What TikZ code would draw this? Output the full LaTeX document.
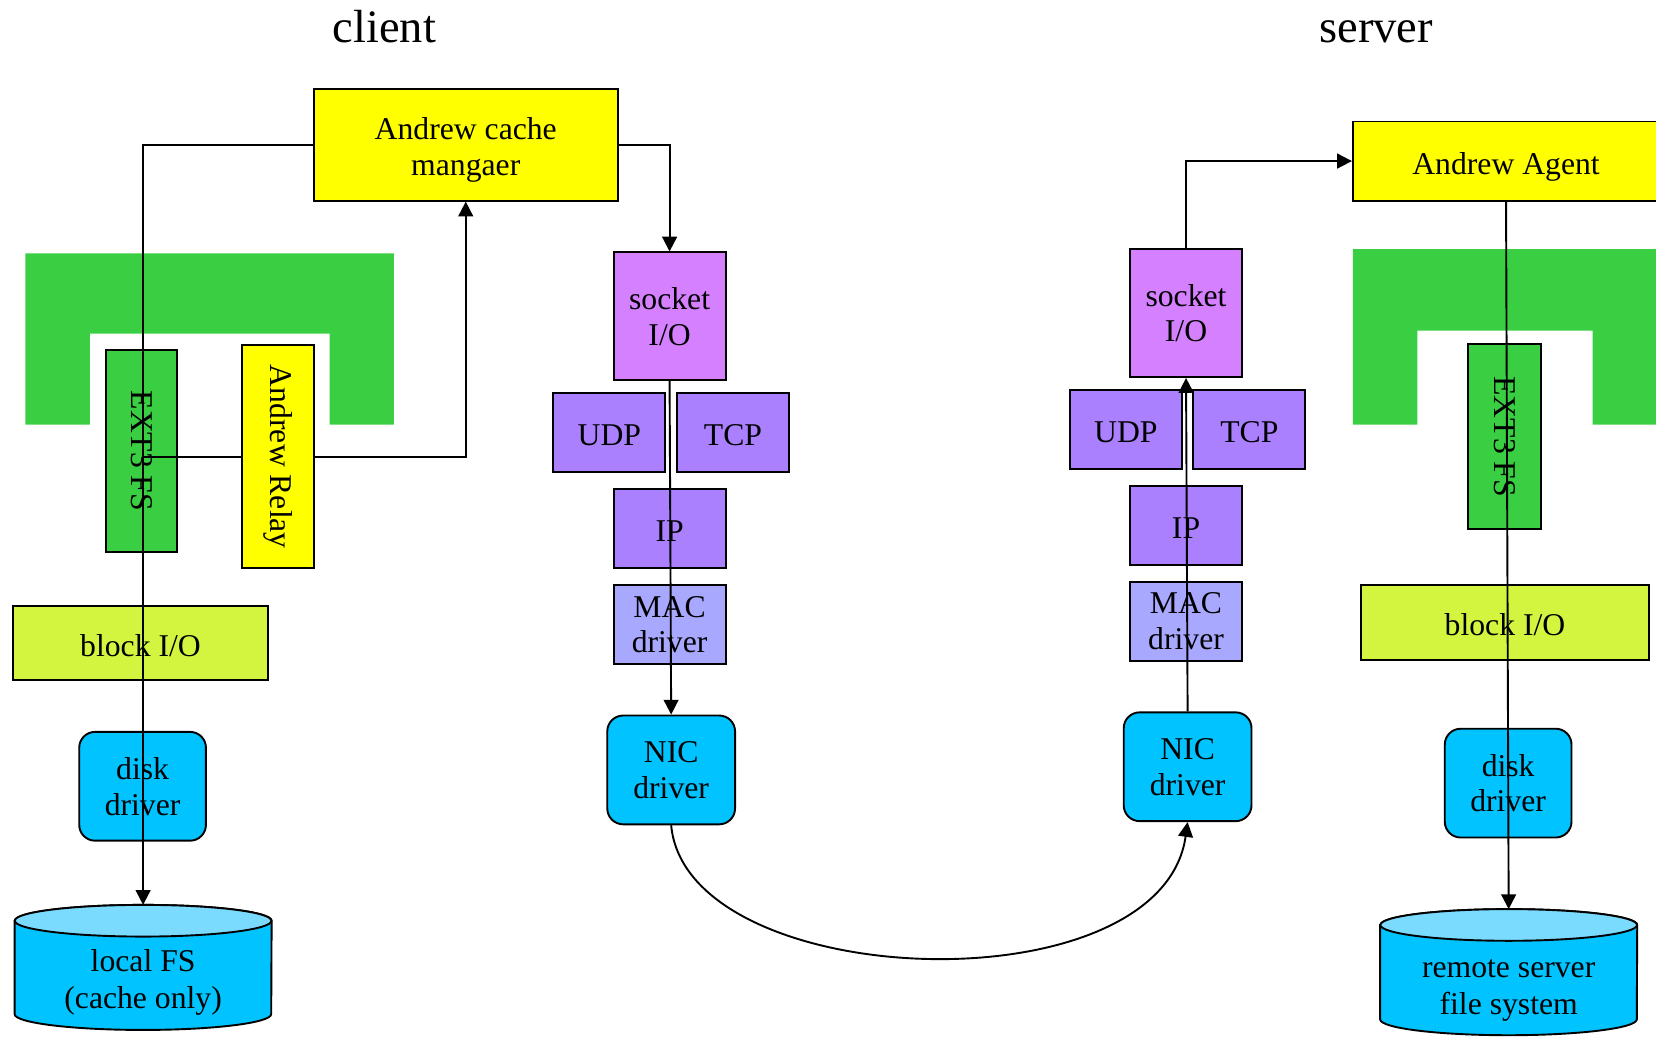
\documentclass[tikz,border=0pt]{standalone}
\usepackage{fontspec}
\setmainfont{Liberation Serif}
\usepackage{graphicx}
\usetikzlibrary{arrows.meta}

\definecolor{ylw}{RGB}{255,255,0}
\definecolor{grn}{RGB}{58,207,66}
\definecolor{blockcol}{RGB}{212,245,64}
\definecolor{sock}{RGB}{213,128,255}
\definecolor{proto}{RGB}{170,128,255}
\definecolor{maccol}{RGB}{168,168,255}
\definecolor{cyanbody}{RGB}{0,195,255}
\definecolor{cyantop}{RGB}{122,219,255}

\begin{document}
\begin{tikzpicture}[x=1pt,y=1pt,
  % the strut height at the start of a node sets how low its text sits
  box/.style={draw=black, line width=1.8pt, inner sep=0pt, align=center,
              font=\fontsize{30}{34}\selectfont,
              execute at begin node={\rule{0pt}{#1}}},
  box/.default=25pt,
  sq/.style={box, minimum width=106pt, minimum height=75pt, fill=proto},
  drv/.style={box, rounded corners=15pt, fill=cyanbody,
              minimum width=121pt, minimum height=103pt},
  slot/.style={inner sep=0pt},
  cyltext/.style={align=center, inner sep=0pt, font=\fontsize{30}{35}\selectfont},
  cyl/.style={line width=1.8pt},
  conn/.style={line width=1.8pt, -{Triangle[length=14pt,width=14pt]}},
  link/.style={line width=1.8pt},
  title/.style={anchor=base, font=\fontsize{44}{50}\selectfont}]

\clip (0,0) rectangle (1568,-982);

% titles
\node[title] (tclient) at (364,-40) {client};
\node[title] (tserver) at (1303,-40) {server};

% green kernel shells
\fill[grn] (24,-240) -- (373,-240) -- (373,-402) -- (312,-402) -- (312,-316)
  -- (85,-316) -- (85,-402) -- (24,-402) -- cycle;
\fill[grn] (1281,-236) -- (1600,-236) -- (1600,-402) -- (1508,-402) -- (1508,-313)
  -- (1342,-313) -- (1342,-402) -- (1281,-402) -- cycle;

% ---------- client ----------
\node[box=0pt, fill=ylw, minimum width=288pt, minimum height=106pt] (cache) at (441,-137)
  {\rule{0pt}{31pt}Andrew cache\\mangaer};
\node[box=0pt, fill=grn, minimum width=68pt, minimum height=192pt] (ext3c) at (134,-427)
  {\rotatebox{-90}{EXT3 FS}};
\node[box=0pt, fill=ylw, minimum width=68pt, minimum height=211pt] (relay) at (263,-432.5)
  {\rotatebox{-90}{Andrew Relay}};
\node[box, fill=blockcol, minimum width=242pt, minimum height=70pt] (blockc) at (133,-609)
  {block I/O};
\node[drv, minimum width=120pt] (diskc) at (135,-744.5) {disk\\driver};
\node[slot, minimum width=243pt, minimum height=118pt] (lfs) at (135.5,-916) {};
\draw[cyl, fill=cyanbody]
  ([yshift=-15pt]lfs.north west) -- ([yshift=15pt]lfs.south west)
  arc[start angle=180, end angle=360, x radius=121.5pt, y radius=15pt]
  -- ([yshift=-15pt]lfs.north east)
  arc[start angle=0, end angle=180, x radius=121.5pt, y radius=15pt] -- cycle;
\draw[cyl, fill=cyantop] ([yshift=-15pt]lfs.north)
  ellipse[x radius=121.5pt, y radius=15pt];
\node[cyltext] (lfslabel) at ([yshift=-14pt]lfs.center) {local FS\\(cache only)};

\node[box, fill=sock, minimum width=106pt, minimum height=121pt] (sockc) at (634,-299.5)
  {socket\\I/O};
\node[sq] (udpc) at (577,-409.5) {UDP};
\node[sq] (tcpc) at (694,-409.5) {TCP};
\node[sq] (ipc) at (634,-500.5) {IP};
\node[sq, fill=maccol] (macc) at (634,-591.5) {MAC\\driver};
\node[drv] (nicc) at (635.5,-729) {NIC\\driver};

% ---------- server ----------
\node[box, fill=sock, minimum width=106pt, minimum height=121pt] (socks) at (1123,-296.5)
  {socket\\I/O};
\node[sq] (udps) at (1066,-406.5) {UDP};
\node[sq] (tcps) at (1183,-406.5) {TCP};
\node[sq] (ips) at (1123,-497.5) {IP};
\node[sq, fill=maccol] (macs) at (1123,-588.5) {MAC\\driver};
\node[drv] (nics) at (1124.5,-726) {NIC\\driver};

\node[box=32pt, fill=ylw, minimum width=290pt, minimum height=75pt] (agent) at (1426,-152.5)
  {Andrew Agent};
\node[box=0pt, fill=grn, minimum width=69pt, minimum height=175pt] (ext3s) at (1424.5,-413.5)
  {\rotatebox{-90}{EXT3 FS}};
\node[box, fill=blockcol, minimum width=272pt, minimum height=71pt] (blocks) at (1425,-589.5)
  {block I/O};
\node[drv, minimum width=120pt] (disks) at (1428,-741.5) {disk\\driver};
\node[slot, minimum width=243pt, minimum height=119pt] (rfs) at (1428.5,-920.5) {};
\draw[cyl, fill=cyanbody]
  ([yshift=-15pt]rfs.north west) -- ([yshift=15pt]rfs.south west)
  arc[start angle=180, end angle=360, x radius=121.5pt, y radius=15pt]
  -- ([yshift=-15pt]rfs.north east)
  arc[start angle=0, end angle=180, x radius=121.5pt, y radius=15pt] -- cycle;
\draw[cyl, fill=cyantop] ([yshift=-15pt]rfs.north)
  ellipse[x radius=121.5pt, y radius=15pt];
\node[cyltext] (rfslabel) at ([yshift=-17pt]rfs.center) {remote server\\file system};

% ---------- connectors ----------
\draw[conn] (cache.west) -| (lfs.north);
\draw[link] (ext3c.center |- relay.west) -- (relay.west);
\draw[conn] (relay.east) -| (cache.south);
\draw[conn] (cache.east) -| (sockc.north);
\draw[conn] (sockc.south) -- (nicc.north);
\draw[conn] (nicc.south) .. controls +(14.5,-159) and +(-25,-178) .. (nics.south);
\draw[conn] (nics.north) -- (socks.south);
\draw[conn] (socks.north) |- (agent.west);
\draw[conn] (agent.south) -- (rfs.north);
\end{tikzpicture}
\end{document}
